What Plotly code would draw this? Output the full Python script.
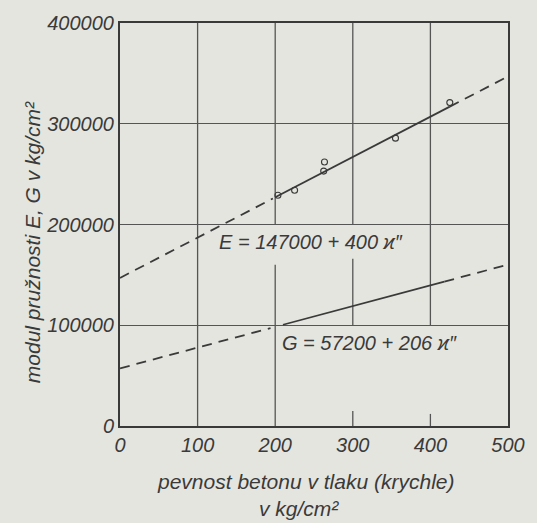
import plotly.graph_objects as go

# ---- data ----
x_ticks = [0, 100, 200, 300, 400, 500]
y_ticks = [0, 100000, 200000, 300000, 400000]
y_ticktext = ["0", "100000", "200000", "300000", "400000"]

# measured points (cube strength, modulus E)
pts_x = [203.5, 225, 262.5, 263.5, 355, 425]
pts_y = [229000, 234000, 253000, 262000, 285700, 321000]

# E = 147000 + 400 x''  (dashed extrapolation, solid fitted range)
E_dash1_x = [0, 197]
E_dash1_y = [147000, 225800]
E_solid_x = [200, 425]
E_solid_y = [227000, 317000]
E_dash2_x = [425, 500]
E_dash2_y = [317000, 347000]

# G = 57200 + 206 x''
G_dash1_x = [0, 194]
G_dash1_y = [57200, 97200]
G_solid_x = [210, 418]
G_solid_y = [100500, 143300]
G_dash2_x = [418, 500]
G_dash2_y = [143300, 160200]

E_label = "E = 147000 + 400 ϰ\u2033"
G_label = "G = 57200 + 206 ϰ\u2033"
x_title1 = "pevnost betonu v tlaku (krychle)"
x_title2 = "v kg/cm²"
y_title = "modul pružnosti E, G v kg/cm²"

# vertical grid segments (x, y0, y1) - partly interrupted as in the original drawing
vgrid = [
    (100, 0, 400000),
    (200, 0, 160000), (200, 200000, 400000),
    (300, 0, 15000), (300, 100000, 166000), (300, 200000, 400000),
    (400, 0, 12000), (400, 100000, 400000),
]

BG = "#e5e5df"
INK = "#3a3a3a"
GRID = "#555555"
FONT = "Liberation Sans, Arial, sans-serif"
DASH = "10px,7px"

fig = go.Figure()

def seg(xs, ys, dash):
    fig.add_trace(go.Scatter(x=xs, y=ys, mode="lines",
                             line=dict(color=INK, width=1.8, dash=dash),
                             showlegend=False, hoverinfo="skip"))

seg(E_dash1_x, E_dash1_y, DASH)
seg(E_solid_x, E_solid_y, "solid")
seg(E_dash2_x, E_dash2_y, DASH)
seg(G_dash1_x, G_dash1_y, DASH)
seg(G_solid_x, G_solid_y, "solid")
seg(G_dash2_x, G_dash2_y, DASH)

fig.add_trace(go.Scatter(x=pts_x, y=pts_y, mode="markers",
                         marker=dict(symbol="circle-open", size=6, color=INK,
                                     line=dict(width=1.1, color=INK)),
                         showlegend=False))

for xv, y0, y1 in vgrid:
    fig.add_shape(type="line", xref="x", yref="y", x0=xv, x1=xv, y0=y0, y1=y1,
                  line=dict(color=GRID, width=1.3), layer="below")

fig.add_annotation(x=125, y=183000, xref="x", yref="y", text=E_label, showarrow=False,
                   xanchor="left", yanchor="middle",
                   font=dict(family=FONT, size=20, color=INK, style="italic"))
fig.add_annotation(x=206, y=82000, xref="x", yref="y", text=G_label, showarrow=False,
                   xanchor="left", yanchor="middle",
                   font=dict(family=FONT, size=20, color=INK, style="italic"))

fig.add_annotation(x=0.479, y=-0.138, xref="paper", yref="paper", text=x_title1,
                   showarrow=False, xanchor="center", yanchor="middle",
                   font=dict(family=FONT, size=21, color=INK, style="italic"))
fig.add_annotation(x=0.462, y=-0.204, xref="paper", yref="paper", text=x_title2,
                   showarrow=False, xanchor="center", yanchor="middle",
                   font=dict(family=FONT, size=21, color=INK, style="italic"))
fig.add_annotation(x=-0.227, y=0.456, xref="paper", yref="paper", text=y_title,
                   showarrow=False, textangle=-90, xanchor="center", yanchor="middle",
                   font=dict(family=FONT, size=21, color=INK, style="italic"))

fig.update_xaxes(range=[0, 500], tickvals=x_ticks, showgrid=False, zeroline=False,
                 showline=True, mirror=True, linecolor=INK, linewidth=2, ticks="",
                 tickfont=dict(family=FONT, size=20, color=INK, style="italic"))
fig.update_yaxes(range=[0, 400000], tickvals=y_ticks, ticktext=y_ticktext,
                 showgrid=True, gridcolor=GRID, gridwidth=1.3, zeroline=False,
                 showline=True, mirror=True, linecolor=INK, linewidth=2, ticks="",
                 tickfont=dict(family=FONT, size=20, color=INK, style="italic"))

fig.update_layout(width=537, height=523, margin=dict(l=120, r=27, t=20, b=97),
                  paper_bgcolor=BG, plot_bgcolor=BG, showlegend=False)

fig.write_html("out.html", config={"displayModeBar": False},
               post_script="document.body.style.margin='0px';")
